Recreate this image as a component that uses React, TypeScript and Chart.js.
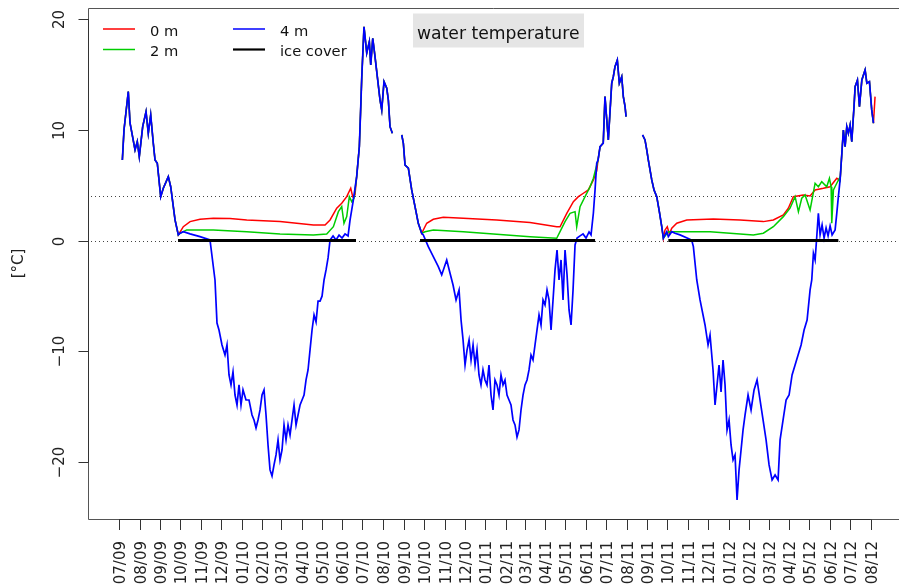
import React, { useEffect, useRef } from 'react';
import { Chart, registerables } from 'chart.js';
Chart.register(...registerables);

type P = [number, number];
// x = days since 2009-07-01, y = water temperature in °C

const autumn2009: P[] = [[5,7.27],[7.5,10.0],[13.9,13.44],[16.5,10.61],[24,8.18],[27.4,8.93],[30.4,7.57],[35.5,10.28],[40.5,11.63],[43.9,9.68],[47.5,11.34],[51.4,8.78],[54,7.27],[57.4,6.98],[62.5,3.96],[66.4,4.72],[73.9,5.77],[77.5,4.86],[84,1.86],[88.9,0.51]];

const winter0910Blue: P[] = [[91.5,0.66],[96.4,0.8],[106.5,0.6],[121.4,0.35],[136.4,0.05],[143.9,-3.56],[146.9,-7.44],[149.9,-8.07],[154.4,-9.42],[158.9,-10.33],[161.9,-9.42],[164.9,-12.13],[167.9,-13.03],[170.9,-11.86],[173.9,-13.94],[176.9,-14.84],[179.9,-13.03],[182.9,-14.84],[185.9,-13.48],[190.4,-14.39],[194.9,-14.39],[199.4,-15.74],[202.4,-16.19],[205.4,-16.91],[208.4,-16.19],[211.4,-15.29],[214.4,-13.94],[217.4,-13.48],[220.4,-15.74],[223.4,-18.45],[226.4,-20.7],[229.4,-21.25],[232.4,-20.25],[235.4,-19.35],[238.4,-17.99],[241.4,-19.8],[244.4,-18.9],[247.4,-16.64],[250.4,-17.99],[253.4,-16.64],[256.4,-17.55],[259.4,-16.19],[262.4,-14.84],[265.4,-16.64],[268.4,-15.74],[271.4,-14.84],[274.4,-14.39],[277.4,-13.94],[280.4,-12.58],[283.4,-11.68],[286.4,-9.87],[289.4,-8.07],[292.4,-6.71],[295.4,-7.35],[298.4,-5.47],[301.4,-5.47],[304.4,-5.02],[307.4,-3.56],[310.4,-2.65],[313.4,-1.57],[316.4,0.05],[320.9,0.42],[325.4,0.05],[329.9,0.5],[334.4,0.23],[338.9,0.6],[343.4,0.42],[346.4,1.86],[348.9,2.76],[351.3,3.66]];
const winter0910Red: P[] = [[96.4,1.25],[106.5,1.71],[121.4,1.92],[141.4,2.01],[166.4,2.0],[191.5,1.86],[241.4,1.71],[291.4,1.41],[308.9,1.41],[316.4,1.86],[326.4,2.92],[333.9,3.37],[341.4,3.96],[347.4,4.72],[350.4,3.96],[353.8,4.12]];
const winter0910Green: P[] = [[91.5,0.66],[101.5,0.96],[141.4,0.96],[191.5,0.8],[241.4,0.6],[291.4,0.51],[311.4,0.6],[321.4,1.25],[328.9,2.61],[333.9,3.06],[337.3,1.56],[341.4,2.16],[345.3,3.96],[348.9,3.51],[352.3,3.82]];

const summer2010: P[] = [[356.3,5.77],[360.3,8.47],[362.1,11.52],[363.9,14.68],[367.3,19.3],[371.4,16.93],[375.3,17.95],[377.4,15.85],[380.4,18.26],[383.8,16.6],[386.4,15.24],[391.3,12.69],[393.9,11.79],[397.3,14.34],[401.4,13.75],[403.8,12.69],[406.3,10.28],[409.8,9.68]];
const autumn2010: P[] = [[423.9,9.53],[426.3,8.78],[428.8,6.82],[433.8,6.53],[438.8,4.57],[443.8,3.06],[448.7,1.56],[453.8,0.66]];

const winter1011Blue: P[] = [[456.2,0.51],[463.7,-0.55],[471.2,-1.45],[478.7,-2.36],[483.8,-3.1],[491.3,-1.75],[496.3,-2.95],[500.8,-4.01],[505.3,-5.36],[509.8,-4.46],[512.8,-7.17],[515.8,-8.97],[518.8,-11.23],[521.8,-9.87],[524.8,-8.97],[527.8,-10.78],[530.8,-9.42],[533.8,-11.23],[536.7,-9.87],[539.7,-12.13],[542.7,-13.03],[545.7,-11.68],[548.7,-12.58],[551.7,-13.03],[554.7,-11.23],[557.7,-13.94],[560.7,-15.29],[563.7,-12.58],[566.7,-13.03],[569.7,-13.94],[572.7,-12.13],[575.7,-13.03],[578.7,-12.58],[581.7,-13.94],[584.7,-14.39],[587.7,-14.84],[590.7,-16.19],[593.7,-16.64],[596.7,-17.73],[599.7,-17.09],[602.7,-15.29],[605.7,-13.94],[608.7,-13.03],[611.7,-12.58],[614.7,-11.68],[617.7,-10.33],[620.7,-10.78],[623.7,-9.42],[626.7,-8.07],[629.7,-6.71],[632.7,-7.62],[635.7,-5.36],[638.7,-5.81],[641.7,-4.46],[644.7,-5.36],[647.7,-8.07],[650.7,-5.36],[653.7,-2.65],[656.7,-0.85],[659.7,-3.56],[662.7,-1.75],[665.7,-5.36],[668.7,-0.85],[671.7,-3.1],[674.7,-6.26],[677.7,-7.62],[680.7,-4.46],[683.7,-0.4],[686.7,0.23],[691.2,0.42],[695.7,0.6],[700.2,0.23],[704.7,0.78],[707.7,0.51],[711.2,2.49],[713.7,4.57],[716.2,6.98]];
const winter1011Red: P[] = [[461.3,1.56],[471.2,1.92],[486.2,2.1],[516.2,2.01],[566.3,1.86],[616.2,1.62],[656.2,1.25],[661.2,1.25],[671.3,2.46],[681.2,3.51],[688.7,3.96],[696.2,4.27],[703.7,4.57],[711.2,5.47],[716.2,6.3]];
const winter1011Green: P[] = [[458.8,0.8],[471.2,0.96],[516.2,0.8],[566.3,0.57],[616.2,0.35],[656.2,0.21],[661.2,0.8],[668.7,1.71],[676.2,2.46],[683.7,2.61],[686.2,1.25],[691.2,3.06],[698.7,3.96],[706.2,4.86],[711.2,5.62]];

const summer2011: P[] = [[718.2,7.27],[721.2,8.47],[726,8.8],[728.6,12.99],[733.6,9.08],[738.7,14.2],[741.1,14.79],[743.6,15.69],[747.1,16.3],[750.1,14.2],[753.7,14.79],[756.1,12.99],[758.7,12.08],[760.2,11.18]];
const autumn2011: P[] = [[784.9,9.53],[788.6,9.08],[791.2,8.18],[793.6,7.27],[798.7,5.47],[802.1,4.57],[806.2,3.96],[810.1,2.61],[813.7,1.25],[816.1,0.21]];

const winter1112Blue: P[] = [[818.6,0.51],[821.2,0.8],[823.6,0.35],[828.7,0.8],[833.6,0.66],[841.1,0.51],[858.6,0.05],[861.1,-0.55],[866.2,-3.56],[871.1,-5.36],[878.6,-7.62],[883.1,-9.42],[886.1,-8.52],[890.6,-11.68],[893.6,-14.84],[896.6,-13.03],[899.6,-11.23],[902.6,-13.66],[905.6,-10.78],[908.6,-13.03],[911.6,-17.09],[914.6,-16.19],[917.6,-18.45],[920.6,-19.8],[923.6,-19.35],[926.6,-23.41],[929.6,-20.7],[932.6,-18.9],[935.6,-17.09],[938.6,-15.74],[943.1,-13.94],[947.6,-15.29],[952.1,-13.48],[956.6,-12.58],[961.1,-14.39],[965.6,-16.19],[970.1,-17.99],[974.6,-20.25],[979.1,-21.61],[983.6,-21.16],[988.1,-21.61],[991.1,-17.99],[995.6,-16.19],[1000.1,-14.39],[1004.6,-13.94],[1009.1,-12.13],[1013.6,-11.23],[1018.1,-10.33],[1022.6,-9.42],[1027.1,-8.07],[1031.6,-7.17],[1036.1,-4.46],[1038.6,-3.56],[1041.1,-1.15],[1043.6,-1.75],[1046.1,0.35],[1048.5,2.46],[1051.1,0.51],[1054.1,1.41],[1057.1,0.23],[1060.1,1.14],[1063.1,0.42],[1066.1,1.32],[1069.1,0.51],[1073.6,0.96],[1076.1,2.46],[1078.5,3.96]];
const winter1112Red: P[] = [[818.6,0.96],[822,1.25],[825.1,0.6],[828.7,1.11],[836.2,1.56],[851.2,1.86],[891,1.95],[931.1,1.86],[966,1.71],[981,1.86],[996,2.31],[1003.5,2.92],[1011,3.96],[1026,4.12],[1036.1,4.03],[1043.6,4.57],[1056,4.72],[1066.1,4.86],[1076.1,5.62],[1080,5.47]];
const winter1112Green: P[] = [[823.6,0.8],[828.7,0.8],[866.2,0.8],[886.1,0.8],[916.1,0.66],[931.1,0.6],[951,0.51],[966,0.66],[981,1.25],[996,2.16],[1006,2.92],[1013.6,3.96],[1018.6,2.61],[1023.6,3.82],[1028.6,4.12],[1036.1,2.76],[1043.6,5.17],[1048.5,4.86],[1053.6,5.32],[1061.1,4.86],[1065.1,5.62],[1067.6,4.86],[1068.6,1.56],[1071.1,4.57],[1076.1,5.17],[1080,5.62]];

const summer2012: P[] = [[1081.1,5.47],[1086,9.98],[1088.6,8.47],[1091.1,10.28],[1093.5,9.68],[1096.1,10.43],[1098.6,8.93],[1102.1,12.24],[1103.6,13.89],[1107.1,14.49],[1110.1,12.08],[1113.7,14.49],[1118.6,15.4],[1121.2,14.2],[1125.1,14.34],[1128.5,11.79],[1131.1,10.59]];
const redTail2012: P[] = [[1133.5,12.99]];

// gaps in the record (no data)
const gapDays = [416, 772];

// ice cover periods (days since 2009-07-01)
const iceStart = [88.5, 451.3, 823.6];
const iceEnd = [355.3, 713.7, 1078.5];

const monthLabels = ['07/09','08/09','09/09','10/09','11/09','12/09','01/10','02/10','03/10','04/10','05/10','06/10','07/10','08/10','09/10','10/10','11/10','12/10','01/11','02/11','03/11','04/11','05/11','06/11','07/11','08/11','09/11','10/11','11/11','12/11','01/12','02/12','03/12','04/12','05/12','06/12','07/12','08/12'];
const yTicks = [-20, -10, 0, 10, 20];
const refLines = [0, 4];

const X_MIN = -46.5;
const X_MAX = 1169.4;
const Y_MIN = -25.13;
const Y_MAX = 20.99;
const FONT = '"DejaVu Sans", sans-serif';

const pts = (a: P[]) => a.map(([x, y]) => ({ x, y }));
const gap = (d: number) => [{ x: d, y: null as any }];

const blueData = [
  ...pts(autumn2009), ...pts(winter0910Blue), ...pts(summer2010), ...gap(gapDays[0]),
  ...pts(autumn2010), ...pts(winter1011Blue), ...pts(summer2011), ...gap(gapDays[1]),
  ...pts(autumn2011), ...pts(winter1112Blue), ...pts(summer2012),
];
const redData = [
  ...pts(autumn2009), ...pts(winter0910Red), ...pts(summer2010), ...gap(gapDays[0]),
  ...pts(autumn2010), ...pts(winter1011Red), ...pts(summer2011), ...gap(gapDays[1]),
  ...pts(autumn2011), ...pts(winter1112Red), ...pts(summer2012), ...pts(redTail2012),
];
const greenData = [
  ...pts(autumn2009), ...pts(winter0910Green), ...pts(summer2010), ...gap(gapDays[0]),
  ...pts(autumn2010), ...pts(winter1011Green), ...pts(summer2011), ...gap(gapDays[1]),
  ...pts(autumn2011), ...pts(winter1112Green), ...pts(summer2012),
];
const iceData: any[] = [];
iceStart.forEach((s, i) => {
  if (i > 0) iceData.push({ x: (iceEnd[i - 1] + s) / 2, y: null });
  iceData.push({ x: s, y: 0 }, { x: iceEnd[i], y: 0 });
});

const monthDays = monthLabels.map((l) => {
  const m = parseInt(l.slice(0, 2), 10) - 1;
  const yr = 2000 + parseInt(l.slice(3), 10);
  return (Date.UTC(yr, m, 1) - Date.UTC(2009, 6, 1)) / 86400000;
});

const legendItems = [
  { label: '0 m', color: '#ff0000', w: 1.5, x: 103, y: 29 },
  { label: '2 m', color: '#00cd00', w: 1.5, x: 103, y: 49.5 },
  { label: '4 m', color: '#0000ff', w: 1.5, x: 233, y: 29 },
  { label: 'ice cover', color: '#000000', w: 2.2, x: 233, y: 49.5 },
];

const decor = {
  id: 'decor',
  beforeDatasetsDraw(chart: any) {
    const { ctx, chartArea: a, scales } = chart;
    const y = scales.y;
    ctx.save();
    ctx.strokeStyle = '#444';
    ctx.lineWidth = 1;
    ctx.setLineDash([1, 3]);
    for (const v of refLines) {
      const py = Math.round(y.getPixelForValue(v)) + 0.5;
      ctx.beginPath();
      ctx.moveTo(a.left + 3, py);
      ctx.lineTo(a.right, py);
      ctx.stroke();
    }
    ctx.restore();
  },
  afterDraw(chart: any) {
    const { ctx, chartArea: a, scales } = chart;
    const x = scales.x;
    const y = scales.y;
    ctx.save();
    // box (left, top, bottom)
    ctx.strokeStyle = '#555';
    ctx.lineWidth = 1;
    ctx.beginPath();
    ctx.moveTo(a.right, Math.round(a.top) + 0.5);
    ctx.lineTo(Math.round(a.left) + 0.5, Math.round(a.top) + 0.5);
    ctx.lineTo(Math.round(a.left) + 0.5, Math.round(a.bottom) + 0.5);
    ctx.lineTo(a.right, Math.round(a.bottom) + 0.5);
    ctx.stroke();

    ctx.strokeStyle = '#333';
    ctx.fillStyle = '#222';
    // y axis
    const yTop = y.getPixelForValue(yTicks[yTicks.length - 1]);
    const yBot = y.getPixelForValue(yTicks[0]);
    const ax = Math.round(a.left) + 0.5;
    ctx.beginPath();
    ctx.moveTo(ax, yTop);
    ctx.lineTo(ax, yBot);
    ctx.stroke();
    ctx.font = `15px ${FONT}`;
    for (const v of yTicks) {
      const py = Math.round(y.getPixelForValue(v)) + 0.5;
      ctx.beginPath();
      ctx.moveTo(ax - 10, py);
      ctx.lineTo(ax, py);
      ctx.stroke();
      ctx.save();
      ctx.translate(63.5, py);
      ctx.rotate(-Math.PI / 2);
      ctx.textAlign = 'center';
      ctx.textBaseline = 'alphabetic';
      ctx.fillText(v < 0 ? '\u2212' + Math.abs(v) : String(v), 0, 0);
      ctx.restore();
    }
    // x axis
    const by = Math.round(a.bottom) + 0.5;
    ctx.beginPath();
    ctx.moveTo(x.getPixelForValue(monthDays[0]), by);
    ctx.lineTo(x.getPixelForValue(monthDays[monthDays.length - 1]), by);
    ctx.stroke();
    monthDays.forEach((d, i) => {
      const px = Math.round(x.getPixelForValue(d)) + 0.5;
      ctx.beginPath();
      ctx.moveTo(px, by);
      ctx.lineTo(px, by + 10.5);
      ctx.stroke();
      ctx.save();
      ctx.translate(px + 5.3, a.bottom + 22);
      ctx.rotate(-Math.PI / 2);
      ctx.textAlign = 'right';
      ctx.textBaseline = 'alphabetic';
      ctx.fillText(monthLabels[i], 0, 0);
      ctx.restore();
    });
    // y title
    ctx.save();
    ctx.translate(23, (a.top + a.bottom) / 2);
    ctx.rotate(-Math.PI / 2);
    ctx.textAlign = 'center';
    ctx.textBaseline = 'alphabetic';
    ctx.fillText('[°C]', 0, 0);
    ctx.restore();

    // legend
    ctx.font = `14.7px ${FONT}`;
    for (const it of legendItems) {
      ctx.strokeStyle = it.color;
      ctx.lineWidth = it.w;
      ctx.beginPath();
      ctx.moveTo(it.x, it.y);
      ctx.lineTo(it.x + 32, it.y);
      ctx.stroke();
      ctx.fillStyle = '#111';
      ctx.textAlign = 'left';
      ctx.textBaseline = 'alphabetic';
      ctx.fillText(it.label, it.x + 47, it.y + 6.5);
    }

    // title box
    ctx.fillStyle = '#e5e5e5';
    ctx.fillRect(413, 13.5, 171, 34);
    ctx.fillStyle = '#111';
    ctx.font = `17.2px ${FONT}`;
    ctx.textAlign = 'left';
    ctx.textBaseline = 'alphabetic';
    ctx.fillText('water temperature', 417, 38.5);
    ctx.restore();
  },
};

export default function App() {
  const ref = useRef<HTMLCanvasElement | null>(null);
  useEffect(() => {
    if (!ref.current) return;
    const chart = new Chart(ref.current, {
      type: 'line',
      data: {
        datasets: [
          { label: 'ice cover', data: iceData, borderColor: '#000000', borderWidth: 3, pointRadius: 0, spanGaps: false, borderCapStyle: 'butt' },
          { label: '4 m', data: blueData as any, borderColor: '#0000ff', borderWidth: 1.7, pointRadius: 0, spanGaps: false },
          { label: '2 m', data: greenData as any, borderColor: '#00cd00', borderWidth: 1.5, pointRadius: 0, spanGaps: false },
          { label: '0 m', data: redData as any, borderColor: '#ff0000', borderWidth: 1.5, pointRadius: 0, spanGaps: false },
        ],
      },
      options: {
        animation: false,
        responsive: false,
        events: [],
        layout: { padding: { left: 88, top: 8, right: 0, bottom: 65 } },
        scales: {
          x: { type: 'linear', min: X_MIN, max: X_MAX, display: false },
          y: { type: 'linear', min: Y_MIN, max: Y_MAX, display: false },
        },
        elements: { line: { tension: 0 }, point: { radius: 0 } },
        plugins: { legend: { display: false }, tooltip: { enabled: false }, title: { display: false } },
      } as any,
      plugins: [decor],
    });
    return () => chart.destroy();
  }, []);
  return (
    <div style={{ position: 'absolute', left: 0, top: 0, width: 899, height: 584, background: '#fff' }}>
      <canvas ref={ref} width={899} height={584} style={{ display: 'block', width: 899, height: 584 }} />
    </div>
  );
}
